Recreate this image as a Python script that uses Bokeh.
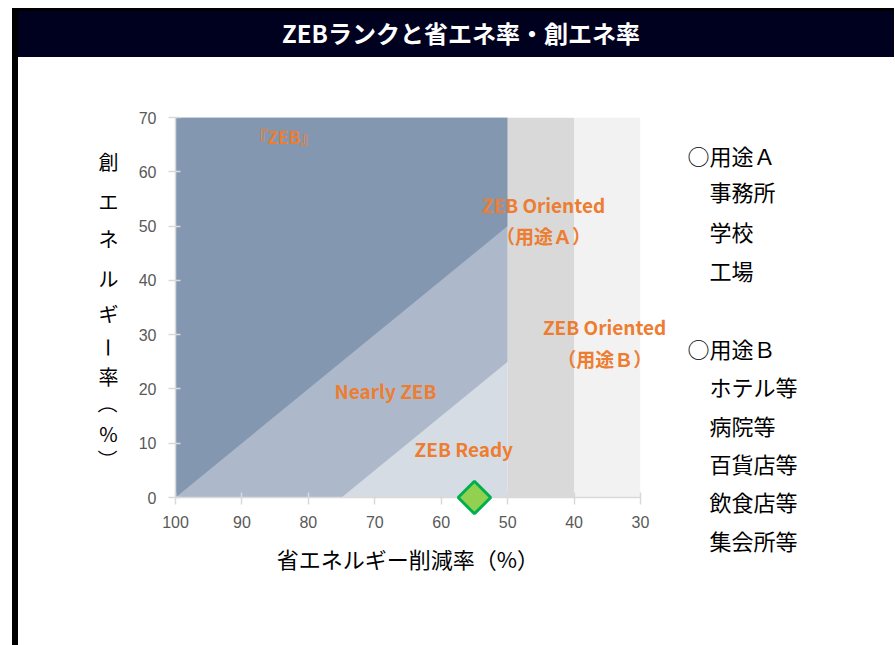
import math
from bokeh.plotting import figure
from bokeh.models import Range1d, FixedTicker, Div
from bokeh.layouts import row, column
from bokeh.embed import file_html
from bokeh.resources import INLINE
from bokeh.core.properties import value

# ---------------- data ----------------
title_text = "ZEBランクと省エネ率・創エネ率"
x_label = "省エネルギー削減率（%）"
y_label = "創エネルギー率（%）"

x_ticks = [100, 90, 80, 70, 60, 50, 40, 30]
y_ticks = [0, 10, 20, 30, 40, 50, 60, 70]

# ZEB rank regions (x: 省エネ削減率, y: 創エネ率)
ready_x = [100, 50, 50, 100]          # ZEB Ready (whole area, partly covered by the others)
ready_y = [0, 0, 70, 70]
nearly_x = [100, 75, 50, 50, 100]     # Nearly ZEB: 省エネ + 創エネ >= 75
nearly_y = [0, 0, 25, 70, 70]
zeb_x = [100, 50, 50, 100]            # ZEB: 省エネ + 創エネ >= 100
zeb_y = [0, 50, 70, 70]

oriented_left = [50, 40]              # ZEB Oriented 用途A / 用途B
oriented_right = [40, 30]
oriented_bottom = [0, 0]
oriented_top = [70, 70]

point_x = [55]                        # current building
point_y = [0]

rank_bold_text = ["『ZEB』", "ZEB Oriented", "ZEB Oriented", "Nearly ZEB", "ZEB Ready"]
rank_bold_x = [83.7, 44.6, 35.4, 68.4, 56.6]
rank_bold_y = [66.5, 54.0, 31.5, 19.7, 9.1]
rank_sub_text = ["（用途Ａ）", "（用途Ｂ）"]
rank_sub_x = [44.6, 35.4]
rank_sub_y = [48.3, 25.6]

use_a = ["○用途Ａ", "事務所", "学校", "工場"]
use_b = ["○用途Ｂ", "ホテル等", "病院等", "百貨店等", "飲食店等", "集会所等"]

# ---------------- colors / fonts ----------------
C_ZEB = "#8497B0"
C_NEARLY = "#ADB9CA"
C_READY = "#D6DCE4"
C_ORIENT = ["#D9D9D9", "#F2F2F2"]
C_TEXT = "#ED7D31"
JP = "Noto Sans CJK JP"

# ---------------- geometry ----------------
PAGE_X, PAGE_Y = 18, 57            # figure origin on the page
FW, FH = 870, 583
ML, MT = 157, 60
FRAME_W, FRAME_H = 465, 380
MR = FW - ML - FRAME_W
MB = FH - MT - FRAME_H
X0, X1, Y0, Y1 = 100, 30, 0, 70
FL, FT = PAGE_X + ML, PAGE_Y + MT   # frame left/top on page


def to_data(px, py):
    """page pixel -> data coordinates (for text placed outside the frame)"""
    x = X0 + (px - FL) * (X1 - X0) / FRAME_W
    y = Y0 + (FT + FRAME_H - py) * (Y1 - Y0) / FRAME_H
    return x, y


# ---------------- figure ----------------
p = figure(width=FW, height=FH, x_range=Range1d(X0, X1), y_range=Range1d(Y0, Y1),
           output_backend="svg", toolbar_location=None,
           min_border_left=ML, min_border_right=MR, min_border_top=MT, min_border_bottom=MB)
p.outline_line_color = None
p.xgrid.visible = False
p.ygrid.visible = False
p.background_fill_color = "white"
p.border_fill_color = "white"

p.patch(ready_x, ready_y, fill_color=C_READY, line_color=None)
p.patch(nearly_x, nearly_y, fill_color=C_NEARLY, line_color=None)
p.patch(zeb_x, zeb_y, fill_color=C_ZEB, line_color=None)
p.quad(left=oriented_left, right=oriented_right, bottom=oriented_bottom, top=oriented_top,
       fill_color=C_ORIENT, line_color=None)

p.text(x=rank_bold_x[:1], y=rank_bold_y[:1], text=rank_bold_text[:1], text_font=value(JP),
       text_font_size="17px", text_font_style="bold", text_color=C_TEXT,
       text_align="center", text_baseline="middle", level="overlay")
p.text(x=rank_bold_x[1:], y=rank_bold_y[1:], text=rank_bold_text[1:], text_font=value(JP),
       text_font_size="19px", text_font_style="bold", text_color=C_TEXT,
       text_align="center", text_baseline="middle", level="overlay")
p.text(x=rank_sub_x, y=rank_sub_y, text=rank_sub_text, text_font=value(JP),
       text_font_size="19px", text_font_style="bold", text_color=C_TEXT,
       text_align="center", text_baseline="middle", level="overlay")

p.scatter(x=point_x, y=point_y, marker="square", angle=math.pi / 4, size=23,
          fill_color="#92D050", line_color="#00B050", line_width=3, level="overlay")

for ax in (p.xaxis[0], p.yaxis[0]):
    ax.axis_line_color = "#D9D9D9"
    ax.axis_line_width = 1.5
    ax.major_tick_line_color = "#D9D9D9"
    ax.major_tick_line_width = 1.5
    ax.major_tick_in = 5
    ax.major_tick_out = 7
    ax.minor_tick_line_color = None
    ax.major_label_text_font = "Liberation Sans"
    ax.major_label_text_font_size = "16px"
    ax.major_label_text_color = "#595959"

p.xaxis.ticker = FixedTicker(ticks=x_ticks)
p.yaxis.ticker = FixedTicker(ticks=y_ticks)
p.xaxis.major_label_standoff = 11
p.yaxis.major_label_standoff = 12
p.xaxis.axis_label = x_label
p.xaxis.axis_label_text_font = JP
p.xaxis.axis_label_text_font_size = "22px"
p.xaxis.axis_label_text_font_style = "normal"
p.xaxis.axis_label_text_color = "black"
p.xaxis.axis_label_standoff = 11

# vertical y-axis label: one upright character per line
y_centers = [161, 201, 238, 278, 313, 347, 376, 403, 433, 459]
up_x, up_y, up_t, rot_x, rot_y, rot_t = [], [], [], [], [], []
for ch, yc in zip(y_label, y_centers):
    dx, dy = to_data(108, yc)
    if ch in "ー（）":
        rot_x.append(dx); rot_y.append(dy); rot_t.append(ch)
    else:
        up_x.append(dx); up_y.append(dy); up_t.append(ch)
p.text(x=up_x, y=up_y, text=up_t, text_font=value(JP), text_font_size="20px",
       text_color="black", text_align="center", text_baseline="middle", level="overlay")
p.text(x=rot_x, y=rot_y, text=rot_t, angle=-math.pi / 2, text_font=value(JP), text_font_size="20px",
       text_color="black", text_align="center", text_baseline="middle", level="overlay")

# right-hand list of building uses
list_text = use_a + use_b
list_px = [687, 709, 709, 709, 687, 709, 709, 709, 709, 709]
list_py = [154, 190, 230, 269, 347, 385, 424, 462, 500, 539]
lx, ly = [], []
for px_, py_ in zip(list_px, list_py):
    dx, dy = to_data(px_, py_)
    lx.append(dx); ly.append(dy)
p.text(x=lx, y=ly, text=list_text, text_font=value(JP), text_font_size="22px",
       text_color="black", text_align="left", text_baseline="middle", level="overlay")

# ---------------- page frame ----------------
title = Div(text=title_text, width=876, height=49, margin=0,
            styles={"background": "linear-gradient(#000000 0 3px, #00001f 3px)",
                    "color": "white", "font-family": JP, "font-weight": "bold",
                    "font-size": "24px", "text-align": "center", "line-height": "49px",
                    "text-indent": "10px", "overflow": "hidden"})
top_gap = Div(text="", width=894, height=8, margin=0)
left_gap = Div(text="", width=12, height=637, margin=0)
bar = Div(text="", width=6, height=637, margin=0, styles={"background-color": "black"})
layout = column(top_gap, row(left_gap, bar, column(title, p, spacing=0), spacing=0), spacing=0)

open("out.html", "w").write(file_html(layout, INLINE))
